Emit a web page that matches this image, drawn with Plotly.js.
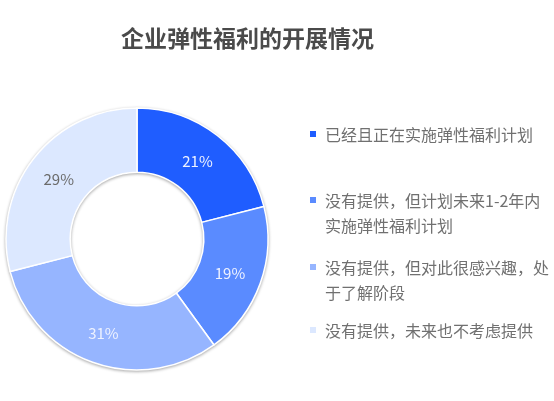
<!DOCTYPE html>
<html>
<head>
<meta charset="utf-8">
<script src="https://cdn.plot.ly/plotly-3.0.1.min.js"></script>
<style>
html,body{margin:0;padding:0;background:#fff;}
#chart{width:554px;height:401px;}
#chart .pielayer{filter:drop-shadow(0px 1px 1.5px rgba(0,0,0,0.35));}
</style>
</head>
<body>
<div id="chart"></div>
<script>
// ---- data ----
const chartTitle = "企业弹性福利的开展情况";
const legendLines = [
  ["已经且正在实施弹性福利计划"],
  ["没有提供，但计划未来1-2年内", "实施弹性福利计划"],
  ["没有提供，但对此很感兴趣，处", "于了解阶段"],
  ["没有提供，未来也不考虑提供"]
];
const labels = legendLines.map(l => l.join(""));
const values = [21, 19, 31, 29];
const colors = ["#1f5dff", "#5a8bff", "#96b5ff", "#dce8ff"];
const textColors = ["#eef2ff", "#eef2ff", "#eef2ff", "#6b6b6b"];

// ---- layout helpers ----
const W = 554, H = 401;
const cx = 137, cy = 239, R = 131;
const font = "Noto Sans CJK SC, Noto Sans, sans-serif";

const trace = {
  type: "pie",
  labels: labels,
  values: values,
  sort: false,
  direction: "clockwise",
  rotation: 0,
  hole: 0.51,
  marker: { colors: colors, line: { color: "#ffffff", width: 1.5 } },
  textinfo: "percent",
  textposition: "inside",
  insidetextorientation: "horizontal",
  insidetextfont: { family: font, size: 15, color: textColors },
  domain: {
    x: [(cx - R) / W, (cx + R) / W],
    y: [(H - cy - R) / H, (H - cy + R) / H]
  },
  showlegend: false,
  hoverinfo: "label+percent"
};

const entryTop = [134, 200, 267, 330];
const lineGap = 25;
const annotations = [];
const shapes = [];
legendLines.forEach((lines, i) => {
  lines.forEach((ln, j) => {
    annotations.push({
      xref: "paper", yref: "paper",
      x: 323 / W, y: 1 - (entryTop[i] + j * lineGap) / H,
      xanchor: "left", yanchor: "middle",
      text: ln, showarrow: false,
      font: { family: font, size: 16, color: "#707070" }
    });
  });
  const sy = entryTop[i];
  shapes.push({
    type: "rect", xref: "paper", yref: "paper",
    x0: 310 / W, x1: 316 / W,
    y0: 1 - (sy + 3) / H, y1: 1 - (sy - 3) / H,
    fillcolor: colors[i], line: { width: 0 }
  });
});

const layout = {
  width: W, height: H,
  margin: { l: 0, r: 0, t: 0, b: 0 },
  paper_bgcolor: "#ffffff",
  title: {
    text: chartTitle,
    x: 247.5 / W, xanchor: "center",
    y: 1 - 39 / H, yanchor: "middle",
    font: { family: font, size: 23, color: "#4a4a4a", weight: 700 }
  },
  annotations: annotations,
  shapes: shapes
};

Plotly.newPlot("chart", [trace], layout, { displayModeBar: false, staticPlot: true });
</script>
</body>
</html>
